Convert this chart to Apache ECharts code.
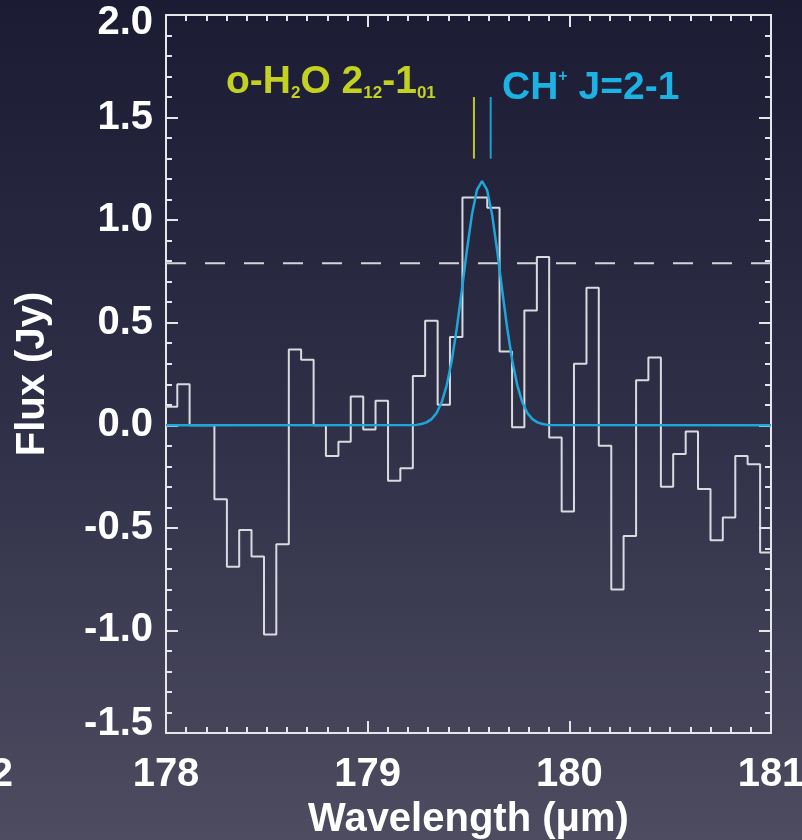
<!DOCTYPE html>
<html>
<head>
<meta charset="utf-8">
<title>Flux spectrum near 179.5 μm</title>
<script src="https://cdn.jsdelivr.net/npm/echarts@6/dist/echarts.min.js"></script>
<style>
  html, body { margin: 0; padding: 0; background: #2c2c44; }
  #chart { width: 802px; height: 840px; }
</style>
</head>
<body>
<div id="chart"></div>
<script>
// Binned spectrum: left edges of each wavelength bin (μm), plus the closing edge
const binEdges = [
  177.995, 178.056, 178.117, 178.179, 178.240, 178.302, 178.363, 178.424,
  178.486, 178.547, 178.609, 178.670, 178.732, 178.793, 178.855, 178.916,
  178.978, 179.039, 179.101, 179.162, 179.224, 179.285, 179.347, 179.408,
  179.470, 179.532, 179.593, 179.654, 179.716, 179.777, 179.839, 179.900,
  179.962, 180.023, 180.085, 180.146, 180.208, 180.269, 180.331, 180.392,
  180.454, 180.515, 180.577, 180.638, 180.700, 180.761, 180.823, 180.884,
  180.946, 181.007
];

// Flux per bin (Jy)
const binFlux = [
   0.09,  0.20,  0.00,  0.00, -0.36, -0.69, -0.51, -0.64,
  -1.02, -0.58,  0.37,  0.32,  0.00, -0.15, -0.08,  0.14,
  -0.02,  0.12, -0.27, -0.21,  0.24,  0.51,  0.10,  0.43,
   1.11,  1.11,  1.06,  0.36, -0.01,  0.56,  0.82, -0.06,
  -0.42,  0.30,  0.67, -0.10, -0.80, -0.54,  0.22,  0.33,
  -0.30, -0.14, -0.03, -0.31, -0.56, -0.45, -0.15, -0.19,
  -0.62
];

// Gaussian line fit, sampled along wavelength
const fitWave = [
  178.000, 179.242, 179.267, 179.292, 179.317, 179.342, 179.367, 179.392,
  179.417, 179.442, 179.467, 179.492, 179.517, 179.542, 179.567, 179.592,
  179.617, 179.642, 179.667, 179.692, 179.717, 179.742, 179.767, 179.792,
  179.817, 179.842, 179.867, 179.892, 181.000
];
const fitFlux = [
  0.000, 0.002, 0.006, 0.014, 0.030, 0.060, 0.112, 0.195,
  0.315, 0.473, 0.659, 0.853, 1.027, 1.147, 1.190, 1.147,
  1.027, 0.853, 0.659, 0.473, 0.315, 0.195, 0.112, 0.060,
  0.030, 0.014, 0.006, 0.002, 0.000
];

// Detection threshold (Jy)
const threshold = 0.79;

// Rest wavelengths of the two candidate lines (μm) and the span of their markers (Jy)
const lineWave = { h2o: 179.527, chp: 179.610 };
const markerSpan = [1.30, 1.60];

const xTicks = { min: 178, max: 181, step: 1 };
const yTicks = { min: -1.5, max: 2.0, step: 0.5 };

const FONT = 'Liberation Sans, Arial, Helvetica, sans-serif';
const AXIS_COLOR = '#e6e6ea';
const YELLOW = '#c3d120';
const CYAN = '#1cb2e4';

const histData = binFlux.map((v, i) => [binEdges[i], v]);
histData.push([binEdges[binEdges.length - 1], binFlux[binFlux.length - 1]]);
const fitData = fitWave.map((w, i) => [w, fitFlux[i]]);

function axisCommon(showLabel) {
  return {
    axisLine: { show: true, onZero: false, lineStyle: { color: AXIS_COLOR, width: 2 } },
    axisTick: { show: true, inside: true, length: 12, lineStyle: { color: AXIS_COLOR, width: 2 } },
    minorTick: { show: true, length: 6, lineStyle: { color: AXIS_COLOR, width: 2 } },
    splitLine: { show: false },
    minorSplitLine: { show: false },
    axisLabel: {
      show: showLabel, color: '#ffffff', fontSize: 40, fontWeight: 'bold', fontFamily: FONT
    }
  };
}

const xBottom = Object.assign(axisCommon(true), {
  type: 'value', position: 'bottom', min: xTicks.min, max: xTicks.max, interval: xTicks.step,
  name: 'Wavelength (μm)', nameLocation: 'middle', nameGap: 59,
  nameTextStyle: { color: '#ffffff', fontSize: 40, fontWeight: 'bold', fontFamily: FONT }
});
xBottom.minorTick.splitNumber = 10;
xBottom.axisLabel.margin = 22;

const xTop = Object.assign(axisCommon(false), {
  type: 'value', position: 'top', min: xTicks.min, max: xTicks.max, interval: xTicks.step
});
xTop.minorTick.splitNumber = 10;

const yLeft = Object.assign(axisCommon(true), {
  type: 'value', position: 'left', min: yTicks.min, max: yTicks.max, interval: yTicks.step,
  name: 'Flux (Jy)', nameLocation: 'middle', nameGap: 113,
  nameTextStyle: { color: '#ffffff', fontSize: 40, fontWeight: 'bold', fontFamily: FONT }
});
yLeft.minorTick.splitNumber = 5;
yLeft.axisLabel.margin = 13;
// End labels are nudged inward so they stay inside the frame's height
yLeft.axisLabel.formatter = v => {
  const s = v.toFixed(1);
  if (v === yTicks.max) return '{hi|' + s + '}';
  if (v === yTicks.min) return '{lo|' + s + '}';
  return s;
};
yLeft.axisLabel.rich = {
  hi: { color: '#ffffff', fontSize: 40, fontWeight: 'bold', fontFamily: FONT, padding: [16, 0, 0, 0] },
  lo: { color: '#ffffff', fontSize: 40, fontWeight: 'bold', fontFamily: FONT, padding: [0, 0, 18, 0] }
};

const yRight = Object.assign(axisCommon(false), {
  type: 'value', position: 'right', min: yTicks.min, max: yTicks.max, interval: yTicks.step
});
yRight.minorTick.splitNumber = 5;

const chart = echarts.init(document.getElementById('chart'), null, { renderer: 'canvas' });

chart.setOption({
  animation: false,
  backgroundColor: new echarts.graphic.LinearGradient(0, 0, 0, 1, [
    { offset: 0, color: '#1b1c33' },
    { offset: 0.5, color: '#2f2f48' },
    { offset: 1, color: '#4d4c60' }
  ]),
  grid: { left: 166, right: 31, top: 15, bottom: 107, outerBoundsMode: 'none', containLabel: false },
  xAxis: [xBottom, xTop],
  yAxis: [yLeft, yRight],
  series: [
    {
      name: 'threshold', type: 'line', symbol: 'none', z: 1,
      data: [[xTicks.min, threshold], [xTicks.max, threshold]],
      lineStyle: { color: '#d4d4da', width: 2, type: [20, 19] }
    },
    {
      name: 'spectrum', type: 'line', step: 'end', symbol: 'none', z: 2, clip: true,
      data: histData,
      lineStyle: { color: '#dadae0', width: 2 }
    },
    {
      name: 'fit', type: 'line', symbol: 'none', z: 3,
      data: fitData,
      lineStyle: { color: '#1fa6d8', width: 2.5 }
    },
    {
      name: 'o-H2O', type: 'line', symbol: 'none', z: 3,
      data: [[lineWave.h2o, markerSpan[0]], [lineWave.h2o, markerSpan[1]]],
      lineStyle: { color: '#b9c925', width: 2 }
    },
    {
      name: 'CH+', type: 'line', symbol: 'none', z: 3,
      data: [[lineWave.chp, markerSpan[0]], [lineWave.chp, markerSpan[1]]],
      lineStyle: { color: '#1b9fd0', width: 2 }
    }
  ],
  graphic: [
    {
      type: 'text', left: 226, top: 63, z: 10,
      style: {
        text: '{a|o-H}{s|2}{a|O 2}{s|12}{a|-1}{s|01}',
        rich: {
          a: { fill: YELLOW, fontSize: 39, fontWeight: 'bold', fontFamily: FONT, lineHeight: 45, verticalAlign: 'bottom' },
          s: { fill: YELLOW, fontSize: 17, fontWeight: 'bold', fontFamily: FONT, lineHeight: 17, verticalAlign: 'bottom' }
        }
      }
    },
    {
      type: 'text', left: 502, top: 63, z: 10,
      style: {
        text: '{a|CH}{p|+}{a| J=2-1}',
        rich: {
          a: { fill: CYAN, fontSize: 39, fontWeight: 'bold', fontFamily: FONT, lineHeight: 45, verticalAlign: 'bottom' },
          p: { fill: CYAN, fontSize: 16, fontWeight: 'bold', fontFamily: FONT, lineHeight: 16, verticalAlign: 'top', padding: [6, 0, 0, 0] }
        }
      }
    },
    {
      type: 'text', right: 789, top: 755, z: 10,
      style: { text: '2', fill: '#ffffff', fontSize: 40, fontWeight: 'bold', fontFamily: FONT }
    }
  ]
});
</script>
</body>
</html>
